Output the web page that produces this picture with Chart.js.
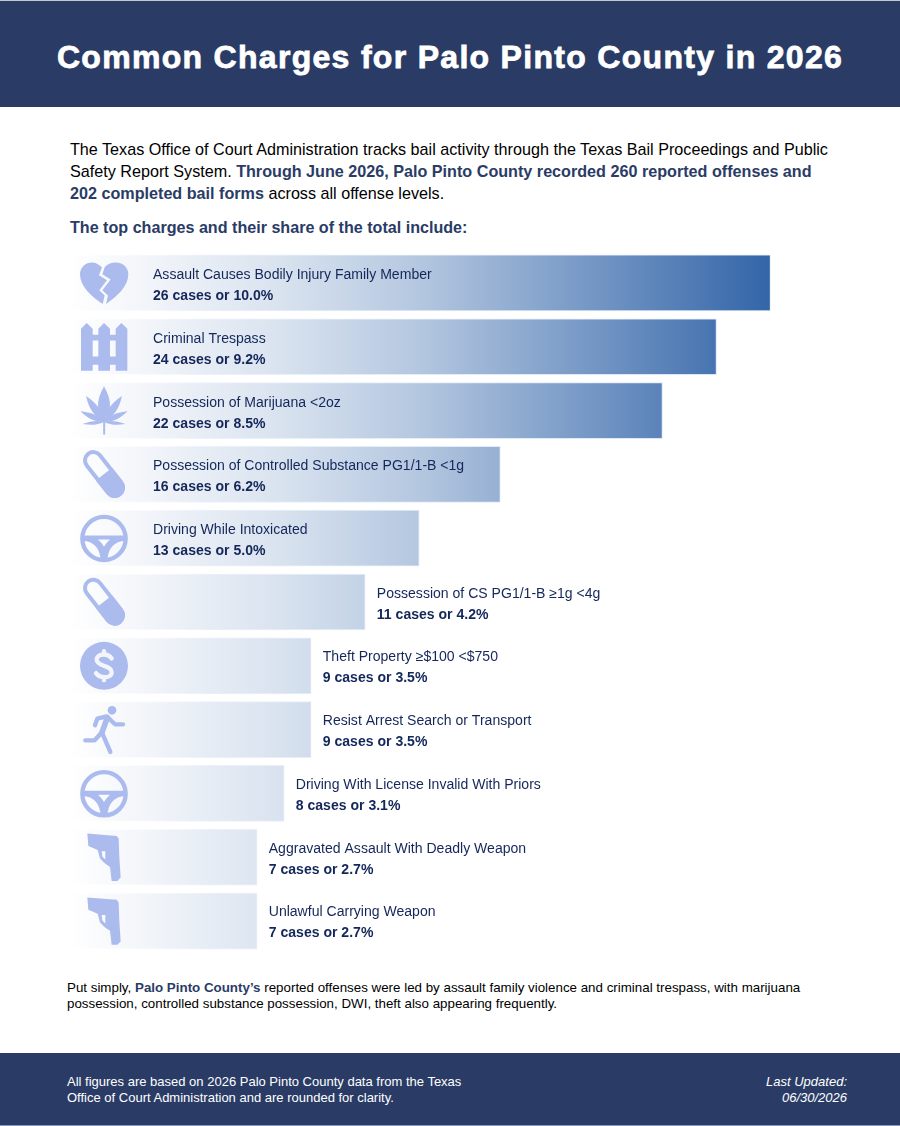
<!DOCTYPE html>
<html>
<head>
<meta charset="utf-8">
<script src="https://cdn.jsdelivr.net/npm/chart.js@4"></script>
<style>
html,body{margin:0;padding:0;background:#fff;}
body{width:900px;height:1126px;position:relative;overflow:hidden;font-family:"Liberation Sans",Arial,sans-serif;}
.band{position:absolute;left:0;width:900px;background:#2a3c66;box-sizing:border-box;}
#head{top:0;height:107px;border-top:1px solid #c4c8d0;}
#foot{top:1053px;height:73px;border-bottom:1px solid #8a97b8;}
h1{position:absolute;left:0;width:900px;top:37px;margin:0;text-align:center;color:#fff;font-size:32px;line-height:38px;font-weight:700;letter-spacing:1.3px;-webkit-text-stroke:0.8px #fff;}
.t{position:absolute;margin:0;color:#000;}
.b{font-weight:700;color:#2a3c66;}
#intro{left:70px;top:138px;width:765px;font-size:16.17px;line-height:22px;}
#lead{left:70px;top:216px;font-size:16.13px;line-height:22px;font-weight:700;color:#2a3c66;}
#sum{left:67px;top:980px;width:770px;font-size:13.35px;line-height:16px;}
#fl{left:67px;top:1074px;color:#fff;font-size:13px;line-height:16px;}
#fr{right:53px;top:1074px;color:#fff;font-size:13px;line-height:16px;font-style:italic;text-align:right;}
#wrap{position:absolute;left:60px;top:245px;width:800px;height:715px;}
</style>
</head>
<body>
<div class="band" id="head"><h1>Common Charges for Palo Pinto County in 2026</h1></div>
<p class="t" id="intro">The Texas Office of Court Administration tracks bail activity through the Texas Bail Proceedings and Public Safety Report System. <span class="b">Through June 2026, Palo Pinto County recorded 260 reported offenses and 202 completed bail forms</span> across all offense levels.</p>
<p class="t" id="lead">The top charges and their share of the total include:</p>
<div id="wrap"><canvas id="c" width="800" height="715"></canvas></div>
<p class="t" id="sum">Put simply, <span class="b">Palo Pinto County’s</span> reported offenses were led by assault family violence and criminal trespass, with marijuana possession, controlled substance possession, DWI, theft also appearing frequently.</p>
<div class="band" id="foot"></div>
<p class="t" id="fl">All figures are based on 2026 Palo Pinto County data from the Texas<br>Office of Court Administration and are rounded for clarity.</p>
<p class="t" id="fr">Last Updated:<br>06/30/2026</p>
<script>
const categories = [
  "Assault Causes Bodily Injury Family Member",
  "Criminal Trespass",
  "Possession of Marijuana <2oz",
  "Possession of Controlled Substance PG1/1-B <1g",
  "Driving While Intoxicated",
  "Possession of CS PG1/1-B ≥1g <4g",
  "Theft Property ≥$100 <$750",
  "Resist Arrest Search or Transport",
  "Driving With License Invalid With Priors",
  "Aggravated Assault With Deadly Weapon",
  "Unlawful Carrying Weapon"
];
const caseCounts = [26, 24, 22, 16, 13, 11, 9, 9, 8, 7, 7];
const sharePercents = ["10.0", "9.2", "8.5", "6.2", "5.0", "4.2", "3.5", "3.5", "3.1", "2.7", "2.7"];
const iconNames = ["heart", "fence", "leaf", "pill", "wheel", "pill", "dollar", "runner", "wheel", "gun", "gun"];
const labelsInsideFrom = 13;

const ICON = "#abbbee";
const ICON_BG = "#f2f5fa";
const icons = {
  heart(g) {
    g.fill(new Path2D("M128 147C95 125 60 95 60 58C60 37 77 23 96 23C108 23 118 29 126 38L117 61L141 76L118 106L134 122Z"));
    g.fill(new Path2D("M138 147L144 122L127 106L152 74L127 58L134 37C142 28 152 23 168 23C190 23 205 40 205 58C205 95 170 125 138 147Z"));
  },
  fence(g) {
    g.fill(new Path2D("M63 30L80 13L98 30V48H115V30L132 13L150 30V48H167V30L184 13L202 30V156H167V138H150V156H115V138H98V156H63ZM98 65V113H115V65ZM150 65V113H167V65Z"), "evenodd");
  },
  leaf(g) {
    const leaf = (tx, ty, w) => {
      const bx = 132, by = 118, dx = tx - bx, dy = ty - by, l = Math.hypot(dx, dy);
      const nx = -dy / l * w, ny = dx / l * w;
      g.beginPath();
      g.moveTo(bx, by);
      g.bezierCurveTo(bx + dx * .3 + nx, by + dy * .3 + ny, bx + dx * .6 + nx, by + dy * .6 + ny, tx, ty);
      g.bezierCurveTo(bx + dx * .6 - nx, by + dy * .6 - ny, bx + dx * .3 - nx, by + dy * .3 - ny, bx, by);
      g.fill();
    };
    leaf(132, 11, 24); leaf(186, 40, 15); leaf(78, 40, 15);
    leaf(203, 86, 11); leaf(61, 86, 11); leaf(196, 124, 7); leaf(68, 124, 7);
    g.fillRect(129.5, 112, 6, 44);
  },
  pill(g) {
    g.save();
    g.translate(132, 83);
    g.rotate(Math.atan2(83, 65) - Math.PI / 2);
    const L = 52, r = 31;
    g.beginPath();
    g.arc(0, -L, r - 6, Math.PI, 0);
    g.lineTo(r - 6, L);
    g.arc(0, L, r - 6, 0, Math.PI);
    g.closePath();
    g.lineWidth = 12;
    g.strokeStyle = ICON;
    g.stroke();
    g.beginPath();
    g.moveTo(-r, 0);
    g.lineTo(r, 0);
    g.lineTo(r, L);
    g.arc(0, L, r, 0, Math.PI);
    g.closePath();
    g.fill();
    g.restore();
  },
  wheel(g) {
    g.beginPath();
    g.arc(132, 85, 65, 0, Math.PI * 2);
    g.lineWidth = 13;
    g.strokeStyle = ICON;
    g.stroke();
    g.fill(new Path2D("M68 76H196V92Q146 95 142 150H122Q118 95 68 92ZM114 88H150Q138 98 132 110Q126 98 114 88Z"), "evenodd");
  },
  dollar(g) {
    g.beginPath();
    g.arc(132, 84, 72, 0, Math.PI * 2);
    g.fill();
    g.strokeStyle = ICON_BG;
    g.lineWidth = 13;
    g.lineCap = "round";
    g.stroke(new Path2D("M155 62C149 53 141 50 131 50C118 50 110 56 110 66C110 76 120 80 132 84C146 88 155 93 155 103C155 113 145 118 133 118C122 118 114 114 108 106M132 40V50M132 118V127"));
  },
  runner(g) {
    g.beginPath();
    g.arc(156, 26, 13, 0, Math.PI * 2);
    g.fill();
    g.strokeStyle = ICON;
    g.lineCap = "round";
    g.lineJoin = "round";
    g.lineWidth = 13;
    g.stroke(new Path2D("M105 71L112 51L140 44L165 68L189 68"));
    g.lineWidth = 17;
    g.stroke(new Path2D("M142 48L125 95"));
    g.lineWidth = 13;
    g.stroke(new Path2D("M127 95L151 151M123 95L104 116L76 116"));
  },
  gun(g) {
    g.fill(new Path2D("M82 13L170 20L176 28L178 83L182 145L172 155L155 155L150 113L135 103L120 88L113 62L85 50ZM125 66L127 82L136 91L136 66Z"), "evenodd");
  }
};

const rowDecor = {
  id: "rowDecor",
  afterDatasetsDraw(chart) {
    const g = chart.ctx, xs = chart.scales.x, ys = chart.scales.y;
    caseCounts.forEach((v, i) => {
      const cy = ys.getPixelForValue(i), top = cy - 28;
      g.save();
      g.translate(xs.getPixelForValue(0) - 8, top);
      g.scale(1 / 3, 1 / 3);
      g.fillStyle = ICON;
      icons[iconNames[i]](g);
      g.restore();
      const tx = v >= labelsInsideFrom ? xs.getPixelForValue(0) + 85 : xs.getPixelForValue(v) + 11.6;
      const ty = Math.round(cy - 3.8 - 0.1 * i);
      g.save();
      g.fillStyle = "#14275a";
      g.textAlign = "left";
      g.textBaseline = "alphabetic";
      g.font = '14.05px "Liberation Sans"';
      g.fillText(categories[i], tx, ty);
      g.font = 'bold 14.05px "Liberation Sans"';
      g.fillText(v + " cases or " + sharePercents[i] + "%", tx, ty + 21);
      g.restore();
    });
  }
};

new Chart(document.getElementById("c"), {
  type: "bar",
  data: {
    labels: categories,
    datasets: [{
      data: caseCounts,
      barThickness: 56,
      borderWidth: 1,
      borderSkipped: false,
      borderColor(ctx) {
        const a = ctx.chart.chartArea;
        if (!a) return "#ccc";
        const gr = ctx.chart.ctx.createLinearGradient(a.left, 0, a.right, 0);
        gr.addColorStop(0, "rgba(255,255,255,0)");
        gr.addColorStop(0.2, "rgba(205,220,244,0.4)");
        gr.addColorStop(1, "rgba(200,216,242,0.7)");
        return gr;
      },
      backgroundColor(ctx) {
        const a = ctx.chart.chartArea;
        if (!a) return "#ccc";
        const gr = ctx.chart.ctx.createLinearGradient(a.left, 0, a.right, 0);
        gr.addColorStop(0, "#ffffff");
        gr.addColorStop(0.12, "#f1f4f9");
        gr.addColorStop(0.3, "#d9e3ef");
        gr.addColorStop(0.5, "#b4c7e0");
        gr.addColorStop(1, "#3365a8");
        return gr;
      }
    }]
  },
  options: {
    indexAxis: "y",
    responsive: false,
    animation: false,
    devicePixelRatio: 1,
    layout: { padding: { left: 8, right: 89.5, top: 6, bottom: 7 } },
    plugins: { legend: { display: false }, tooltip: { enabled: false } },
    scales: {
      x: { display: false, min: 0, max: 26 },
      y: { display: false, offset: true }
    }
  },
  plugins: [rowDecor]
});
</script>
</body>
</html>
